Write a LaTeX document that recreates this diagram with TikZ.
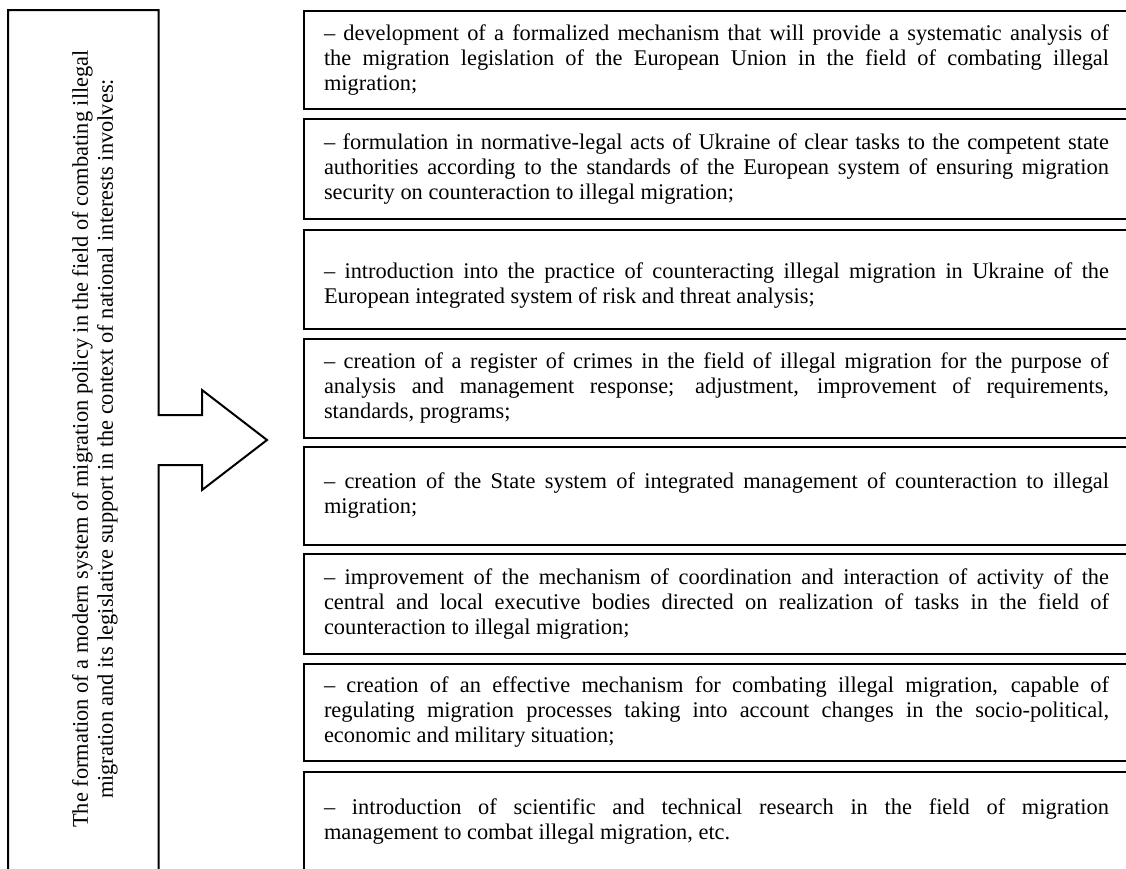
\documentclass[tikz,border=0pt]{standalone}
\usepackage{fontspec}
\setmainfont{Liberation Serif}
\newcommand{\natsp}{\spaceskip=0pt\xspaceskip=0pt\relax}
\newcommand{\justline}[1]{\makebox[785pt][s]{\natsp #1}}
\begin{document}
\begin{tikzpicture}[x=1pt,y=-1pt,line width=2pt,
  item/.style={draw, anchor=north west, inner xsep=20pt, inner ysep=0pt,
    text width=785pt, align=left, font=\fontsize{22.4}{25}\selectfont},
  side/.style={rotate=90, align=center, inner sep=0pt,
    font=\fontsize{22.4}{25}\selectfont}]
\clip (0,0) rectangle (1126,868);
% left box merged with the arrow
\draw[line join=miter] (8,885) -- (8,10) -- (158.5,10) -- (158.5,415) -- (202,415)
  -- (202,390) -- (267,440) -- (202,490) -- (202,465) -- (158.5,465) -- (158.5,885);
\node[side] (main) at (95,439) {\natsp The formation of a modern system of migration policy in the field of combating illegal\\\natsp migration and its legislative support in the context of national interests involves:};
% right boxes
\node[item, minimum height=98pt] (b1) at (303,10)
  {\natsp\justline{– development of a formalized mechanism that will provide a systematic analysis of}\\
   \justline{the migration legislation of the European Union in the field of combating illegal}\\
   migration;};
\node[item, minimum height=100pt] (b2) at (303,118)
  {\natsp\justline{– formulation in normative-legal acts of Ukraine of clear tasks to the competent state}\\
   \justline{authorities according to the standards of the European system of ensuring migration}\\
   security on counteraction to illegal migration;};
\node[item, minimum height=99pt] (b3) at (303,229)
  {\natsp\rule{0pt}{27pt}\justline{– introduction into the practice of counteracting illegal migration in Ukraine of the}\\
   European integrated system of risk and threat analysis;};
\node[item, minimum height=99pt] (b4) at (303,338)
  {\natsp\justline{– creation of a register of crimes in the field of illegal migration for the purpose of}\\
   \justline{analysis and management response; adjustment, improvement of requirements,}\\
   standards, programs;};
\node[item, minimum height=98pt] (b5) at (303,446)
  {\natsp\justline{– creation of the State system of integrated management of counteraction to illegal}\\
   migration;};
\node[item, minimum height=100pt] (b6) at (303,553)
  {\natsp\justline{– improvement of the mechanism of coordination and interaction of activity of the}\\
   \justline{central and local executive bodies directed on realization of tasks in the field of}\\
   counteraction to illegal migration;};
\node[item, minimum height=97pt] (b7) at (303,663)
  {\natsp\justline{– creation of an effective mechanism for combating illegal migration, capable of}\\
   \justline{regulating migration processes taking into account changes in the socio-political,}\\
   economic and military situation;};
\node[item, minimum height=100pt] (b8) at (303,771)
  {\natsp\justline{– introduction of scientific and technical research in the field of migration}\\
   management to combat illegal migration, etc.};
\end{tikzpicture}
\end{document}
